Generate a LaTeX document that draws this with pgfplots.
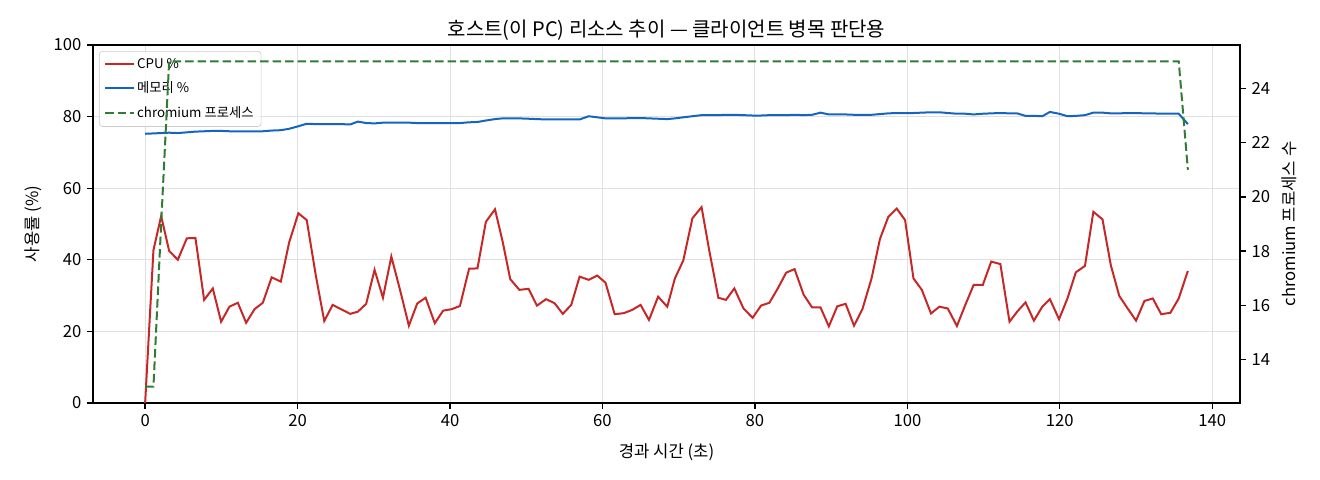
\documentclass[border=0pt]{standalone}
\usepackage{fontspec}
\setmainfont{Noto Sans CJK KR}
\usepackage{pgfplots}
\usepackage{pgfplotstable}
\pgfplotsset{compat=1.18}
\definecolor{cpured}{HTML}{C62828}
\definecolor{memblue}{HTML}{1565C0}
\definecolor{procgreen}{HTML}{2E7D32}
\pgfplotstableread{
t cpu mem proc
0 0 75.2 13
1.09 42.7 75.3 13
2.1 52.2 75.4 19
3.15 42.5 75.5 25
4.29 40.0 75.4 25
5.47 46.0 75.6 25
6.6 46.1 75.8 25
7.74 28.8 75.9 25
8.88 32.0 76.0 25
9.97 22.7 76.0 25
11.06 26.9 75.9 25
12.16 28.0 75.9 25
13.25 22.4 75.9 25
14.35 26.2 75.9 25
15.44 28.0 75.9 25
16.6 35.1 76.1 25
17.8 33.9 76.2 25
18.9 44.9 76.6 25
20.1 53.0 77.3 25
21.2 51.1 78.0 25
22.4 35.5 77.9 25
23.5 22.9 77.9 25
24.6 27.4 77.9 25
25.7 26.2 77.9 25
26.9 24.9 77.8 25
27.9 25.5 78.6 25
29.0 27.7 78.2 25
30.1 37.2 78.1 25
31.2 29.4 78.3 25
32.3 40.9 78.3 25
33.5 31.1 78.3 25
34.6 21.6 78.3 25
35.7 27.8 78.2 25
36.8 29.4 78.2 25
38.0 22.3 78.2 25
39.1 25.8 78.2 25
40.2 26.2 78.2 25
41.3 27.1 78.2 25
42.5 37.5 78.4 25
43.6 37.6 78.5 25
44.7 50.6 78.9 25
45.9 54.1 79.3 25
46.9 45.1 79.5 25
47.9 34.6 79.5 25
49.1 31.6 79.5 25
50.3 31.9 79.4 25
51.4 27.2 79.3 25
52.6 29.0 79.2 25
53.7 27.9 79.2 25
54.8 24.9 79.2 25
55.9 27.4 79.2 25
57.0 35.3 79.2 25
58.2 34.4 80.1 25
59.3 35.6 79.8 25
60.4 33.6 79.5 25
61.6 24.8 79.5 25
62.8 25.1 79.5 25
63.9 26.0 79.6 25
65.0 27.4 79.6 25
66.1 23.2 79.5 25
67.3 29.7 79.4 25
68.5 26.9 79.3 25
69.5 34.8 79.5 25
70.6 39.8 79.8 25
71.8 51.6 80.1 25
73.0 54.7 80.4 25
74.0 42.7 80.4 25
75.2 29.4 80.4 25
76.2 28.8 80.5 25
77.3 32.0 80.5 25
78.5 26.4 80.4 25
79.7 23.8 80.3 25
80.8 27.2 80.3 25
81.9 28.0 80.4 25
83.0 32.0 80.4 25
84.1 36.4 80.4 25
85.2 37.4 80.5 25
86.4 30.2 80.4 25
87.5 26.7 80.5 25
88.6 26.7 81.1 25
89.7 21.4 80.6 25
90.8 27.0 80.6 25
91.9 27.7 80.6 25
93.0 21.6 80.5 25
94.1 26.2 80.5 25
95.3 34.8 80.5 25
96.4 45.8 80.7 25
97.5 52.0 80.9 25
98.6 54.3 81.0 25
99.7 51.1 81.0 25
100.8 34.8 81.0 25
101.9 31.6 81.1 25
103.1 25.0 81.2 25
104.2 26.9 81.2 25
105.3 26.4 81.0 25
106.5 21.5 80.8 25
107.6 27.4 80.8 25
108.7 33.0 80.6 25
109.9 33.0 80.8 25
111.0 39.5 80.9 25
112.2 38.8 81.0 25
113.4 22.7 80.9 25
114.4 25.5 80.9 25
115.5 28.1 80.2 25
116.6 23.0 80.2 25
117.7 26.9 80.1 25
118.7 29.0 81.3 25
119.9 23.4 80.8 25
121.0 29.2 80.1 25
122.1 36.5 80.2 25
123.3 38.3 80.4 25
124.4 53.4 81.1 25
125.6 51.3 81.1 25
126.7 38.4 80.9 25
127.8 29.9 80.9 25
128.9 26.4 81.0 25
130.0 23.0 81.0 25
131.1 28.5 80.9 25
132.2 29.2 80.9 25
133.3 24.8 80.8 25
134.5 25.2 80.8 25
135.6 29.2 80.8 25
136.8 36.9 77.9 21
}\datatable
\begin{document}
\begin{tikzpicture}
\path[use as bounding box] (0,0) rectangle (792pt,288pt);
\pgfplotsset{
  every axis/.append style={
    scale only axis,
    width=688.2pt, height=214.8pt,
    at={(55.8pt,46.2pt)}, anchor=south west,
    xmin=-6.84, xmax=143.64,
    tick align=outside,
    major tick length=3.5pt,
    every tick/.style={black, line width=0.8pt},
    axis line style={line width=0.8pt},
    tick label style={font=\fontsize{10}{12}\selectfont},
    label style={font=\fontsize{10}{12}\selectfont},
    /pgf/number format/assume math mode=true,
  }
}
\begin{axis}[
  ymin=0, ymax=100,
  xtick={0,20,40,60,80,100,120,140},
  ytick={0,20,40,60,80,100},
  xtick pos=bottom, ytick pos=left,
  grid=major,
  major grid style={line width=0.6pt, black!12},
  xlabel={경과 시간 (초)},
  xlabel style={yshift=-3pt},
  ylabel={사용률 (\%)},
  title={호스트(이 PC) 리소스 추이 — 클라이언트 병목 판단용},
  title style={font=\fontsize{12}{14}\selectfont, yshift=-6.5pt},
  legend cell align=left,
  legend style={at={(0.0052,0.983)}, anchor=north west,
    draw=black!20, rounded corners=2pt, fill=white, fill opacity=0.8, text opacity=1,
    font=\fontsize{8}{9}\selectfont,
    inner xsep=3pt, inner ysep=2.5pt,
    row sep=3.7pt,
    nodes={inner sep=1.5pt}},
  legend image code/.code={\draw[#1] (0pt,0pt) -- (17pt,0pt);},
]
\addplot[cpured, line width=1.2pt] table[x=t, y=cpu] {\datatable};
\addlegendentry{CPU \%}
\addplot[memblue, line width=1.2pt] table[x=t, y=mem] {\datatable};
\addlegendentry{메모리 \%}
\addlegendimage{procgreen, line width=1.2pt, dash pattern=on 5.2pt off 2.3pt}
\addlegendentry{chromium 프로세스}
\end{axis}
\begin{axis}[
  ymin=12.4, ymax=25.6,
  hide x axis,
  axis y line*=right,
  ytick={14,16,18,20,22,24},
  ylabel={chromium 프로세스 수},
  axis line style={line width=0.8pt},
]
\addplot[procgreen, line width=1.2pt, dash pattern=on 5.2pt off 2.3pt] table[x=t, y=proc] {\datatable};
\end{axis}
\end{tikzpicture}
\end{document}
